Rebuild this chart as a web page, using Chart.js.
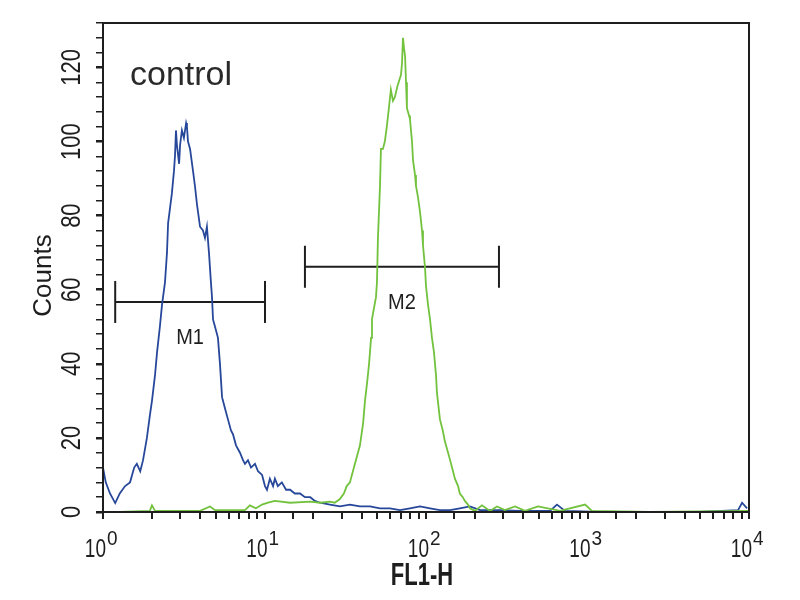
<!DOCTYPE html>
<html>
<head>
<meta charset="utf-8">
<script src="https://cdn.jsdelivr.net/npm/chart.js@4/dist/chart.umd.min.js"></script>
<style>
  body { margin: 0; background: #fff; }
  canvas { display: block; }
</style>
</head>
<body>
<canvas id="c" width="800" height="600"></canvas>
<script>
// FL1-H channel values (log axis) and event counts
const blueFL = [1.00, 1.04, 1.105, 1.19, 1.27, 1.37, 1.47, 1.56, 1.62, 1.70,
    1.77, 1.87, 1.95, 2.01, 2.10, 2.16, 2.25, 2.32, 2.42, 2.49,
    2.53, 2.60, 2.67, 2.75, 2.79, 2.83, 2.87, 2.96, 3.00, 3.08,
    3.17, 3.27, 3.31, 3.36, 3.46, 3.56, 3.61, 3.71, 3.82, 3.99,
    4.16, 4.28, 4.40, 4.53, 4.66, 4.73, 4.80, 4.94, 5.15, 5.30,
    5.46, 5.69, 5.94, 6.20, 6.38, 6.66, 7.05, 7.36, 7.57, 7.90,
    8.25, 8.73, 9.12, 9.66, 10.07, 10.36, 10.8, 11.3, 11.6, 12.1,
    12.8, 13.6, 14.4, 15.4, 16.6, 17.8, 19.2, 20.5, 22.1, 25.4,
    29.3, 33.8, 39.0, 45.0, 51.9, 59.8, 69.0, 79.6, 91.8, 105.9,
    122, 141, 162, 187, 216, 287, 382, 586, 647, 726,
    1195, 2438, 4974, 8550, 9060, 9730];
const blueCounts = [12, 8, 5, 2.4, 5, 7, 8, 12, 13, 11,
    14, 20, 26, 30, 37, 43, 50, 56, 62, 70,
    78, 82, 86, 92, 96, 103, 99, 94, 99, 103,
    101, 105, 104, 100, 98, 94, 92, 88, 83, 77,
    76, 74, 77, 70, 62, 58, 52, 50, 47, 40,
    31, 28, 25, 22, 21, 18, 16, 14, 13, 14,
    12, 13, 11, 10, 7, 6, 9, 7, 9, 7,
    8, 6, 6, 5, 5, 4, 4, 3, 2.5, 2,
    1.5, 2, 1.5, 1.5, 1, 1, 0.5, 1, 1.5, 1,
    0.5, 0.5, 1, 1.5, 0.5, 0.5, 0.3, 0.3, 2, 0.3,
    0, 0, 0, 0.5, 2.5, 1];

const greenFL = [1.00, 1.27, 1.95, 2.01, 2.10, 3.99, 4.60, 4.94, 7.57, 8.12,
    8.85, 9.66, 10.5, 11.6, 14.4, 19.2, 22.1, 25.4, 27.2, 29.3,
    31.0, 32.3, 33.8, 36.3, 37.9, 39.0, 40.8, 41.9, 43.2, 44.4,
    45.7, 46.3, 47.6, 49.0, 49.7, 50.4, 51.9, 52.6, 54.1, 55.6,
    57.2, 58.9, 60.6, 62.4, 64.1, 66.6, 70.0, 71.0, 72.0, 73.2,
    74.2, 75.2, 76.2, 78.5, 79.6, 81.9, 83.1, 85.5, 86.7, 89.2,
    91.8, 94.5, 95.8, 98.6, 100, 102.9, 105.9, 108.9, 112.1, 115.3,
    117, 122, 127, 131, 137, 141, 147, 151, 158, 162,
    169, 174, 182, 187, 201, 222, 249, 275, 308, 356,
    410, 494, 676, 966, 1066, 2438, 10000];
const greenCounts = [0, 0, 0.3, 1.8, 0.3, 0.3, 1.5, 0.5, 0.5, 1.8,
    1, 2, 2.5, 3, 2.5, 2.8, 2.5, 2.8, 2.5, 3.5,
    5, 7, 8, 13, 16, 18, 24, 30, 35, 40,
    47, 52, 55, 58, 62, 74, 88, 98, 98, 100,
    104, 109, 114, 111, 112, 115, 118, 121, 128, 125,
    123, 116, 109, 107, 106, 100, 95, 91, 88, 85,
    81, 76, 72, 66, 61, 56, 52, 47, 43, 37,
    32, 25, 22, 19, 16, 14, 11, 9, 7, 5,
    4, 3, 2, 1, 0.3, 1.8, 0.3, 1.5, 0.5, 1.5,
    0.3, 1.5, 0.3, 2, 0.3, 0, 0.3];

// marker gates
const markerNames = ["M1", "M2"];
const markerRanges = [[1.19, 10.07], [17.8, 283]];
const markerLevels = [56.7, 66.2];

const decadeTicks = [1, 10, 100, 1000, 10000];
const countTicks = [0, 20, 40, 60, 80, 100, 120];
const sampleName = "control";
const xTitle = "FL1-H";
const yTitle = "Counts";

const textFont = "'Liberation Sans', Arial, sans-serif";
const ink = "#1e1e1e";

const toPoints = (xs, ys) => xs.map((x, i) => ({ x, y: ys[i] }));

const markerSets = markerRanges.map((r, i) => ({
    label: markerNames[i],
    data: [{ x: r[0], y: markerLevels[i] }, { x: r[1], y: markerLevels[i] }],
    showLine: true,
    borderColor: ink,
    borderWidth: 2,
    pointStyle: "line",
    pointRotation: 90,
    pointRadius: 21,
    pointBorderColor: ink,
    pointBorderWidth: 2,
    clip: false
}));

// text drawn with a stretch, the scan of the original is squeezed sideways
function stretchText(ctx, text, x, y, sx, sy, rot) {
    ctx.save();
    ctx.translate(x, y);
    if (rot) ctx.rotate(rot);
    ctx.scale(sx, sy);
    ctx.fillText(text, 0, 0);
    ctx.restore();
}

const extras = {
    id: "extras",
    afterDraw(chart) {
        const { ctx, chartArea: a, scales } = chart;
        ctx.save();
        ctx.strokeStyle = ink;
        ctx.lineWidth = 2;
        ctx.strokeRect(a.left, a.top, a.right - a.left, a.bottom - a.top);

        ctx.fillStyle = ink;

        // y tick labels, rotated
        ctx.font = "22px " + textFont;
        ctx.textAlign = "center";
        ctx.textBaseline = "middle";
        countTicks.forEach((v) => {
            const y = scales.y.getPixelForValue(v);
            stretchText(ctx, String(v), a.left - 31, y, 1, 1.25, -Math.PI / 2);
        });

        // x decade labels 10^n
        ctx.textBaseline = "alphabetic";
        decadeTicks.forEach((v) => {
            const x = scales.x.getPixelForValue(v);
            ctx.font = "19px " + textFont;
            ctx.textAlign = "right";
            stretchText(ctx, "10", x + 3, a.bottom + 45, 1, 1.35);
            ctx.font = "19px " + textFont;
            ctx.textAlign = "left";
            stretchText(ctx, String(Math.round(Math.log10(v))), x + 4, a.bottom + 33, 1, 1.05);
        });

        // axis titles
        ctx.font = "bold 22px " + textFont;
        ctx.textAlign = "center";
        stretchText(ctx, xTitle, (a.left + a.right) / 2 - 4, a.bottom + 73, 1, 1.4);
        ctx.font = "26px " + textFont;
        ctx.textBaseline = "middle";
        stretchText(ctx, yTitle, 44, (a.top + a.bottom) / 2 + 8, 1, 1, -Math.PI / 2);

        // sample name
        ctx.font = "34px " + textFont;
        ctx.textAlign = "left";
        ctx.textBaseline = "alphabetic";
        ctx.fillStyle = "#2a2a2a";
        ctx.fillText(sampleName, a.left + 27, a.top + 62);

        // marker names
        ctx.fillStyle = ink;
        ctx.font = "20px " + textFont;
        ctx.textAlign = "center";
        ctx.textBaseline = "middle";
        markerRanges.forEach((r, i) => {
            const x = scales.x.getPixelForValue(Math.sqrt(r[0] * r[1]));
            const y = scales.y.getPixelForValue(markerLevels[i]) + 36;
            stretchText(ctx, markerNames[i], x, y, 1, 1.1);
        });
        ctx.restore();
    }
};

new Chart(document.getElementById("c"), {
    type: "scatter",
    data: {
        datasets: [
            {
                label: "stained",
                data: toPoints(greenFL, greenCounts),
                showLine: true,
                borderColor: "#72c23e",
                borderWidth: 1.8,
                pointRadius: 0,
                tension: 0
            },
            {
                label: "control",
                data: toPoints(blueFL, blueCounts),
                showLine: true,
                borderColor: "#27489a",
                borderWidth: 1.8,
                pointRadius: 0,
                tension: 0
            },
            ...markerSets
        ]
    },
    options: {
        responsive: false,
        animation: false,
        layout: { padding: { top: 5, right: 51, left: 0, bottom: 0 } },
        plugins: { legend: { display: false }, tooltip: { enabled: false } },
        scales: {
            x: {
                type: "logarithmic",
                min: 1,
                max: 10000,
                afterFit: (s) => { s.height = 88; },
                border: { display: true, color: ink, width: 2 },
                grid: { drawOnChartArea: false, drawTicks: true, tickLength: 7, color: ink, lineWidth: 2 },
                ticks: { display: false, autoSkip: false }
            },
            y: {
                min: 0,
                max: 132,
                afterFit: (s) => { s.width = 103; },
                border: { display: true, color: ink, width: 2 },
                grid: {
                    drawOnChartArea: false, drawTicks: true, tickLength: 7, color: ink,
                    lineWidth: (c) => (c.tick && c.tick.value % 20 === 0 ? 2.5 : 1.5)
                },
                ticks: { display: false, stepSize: 4, autoSkip: false }
            }
        }
    },
    plugins: [extras]
});
</script>
</body>
</html>
